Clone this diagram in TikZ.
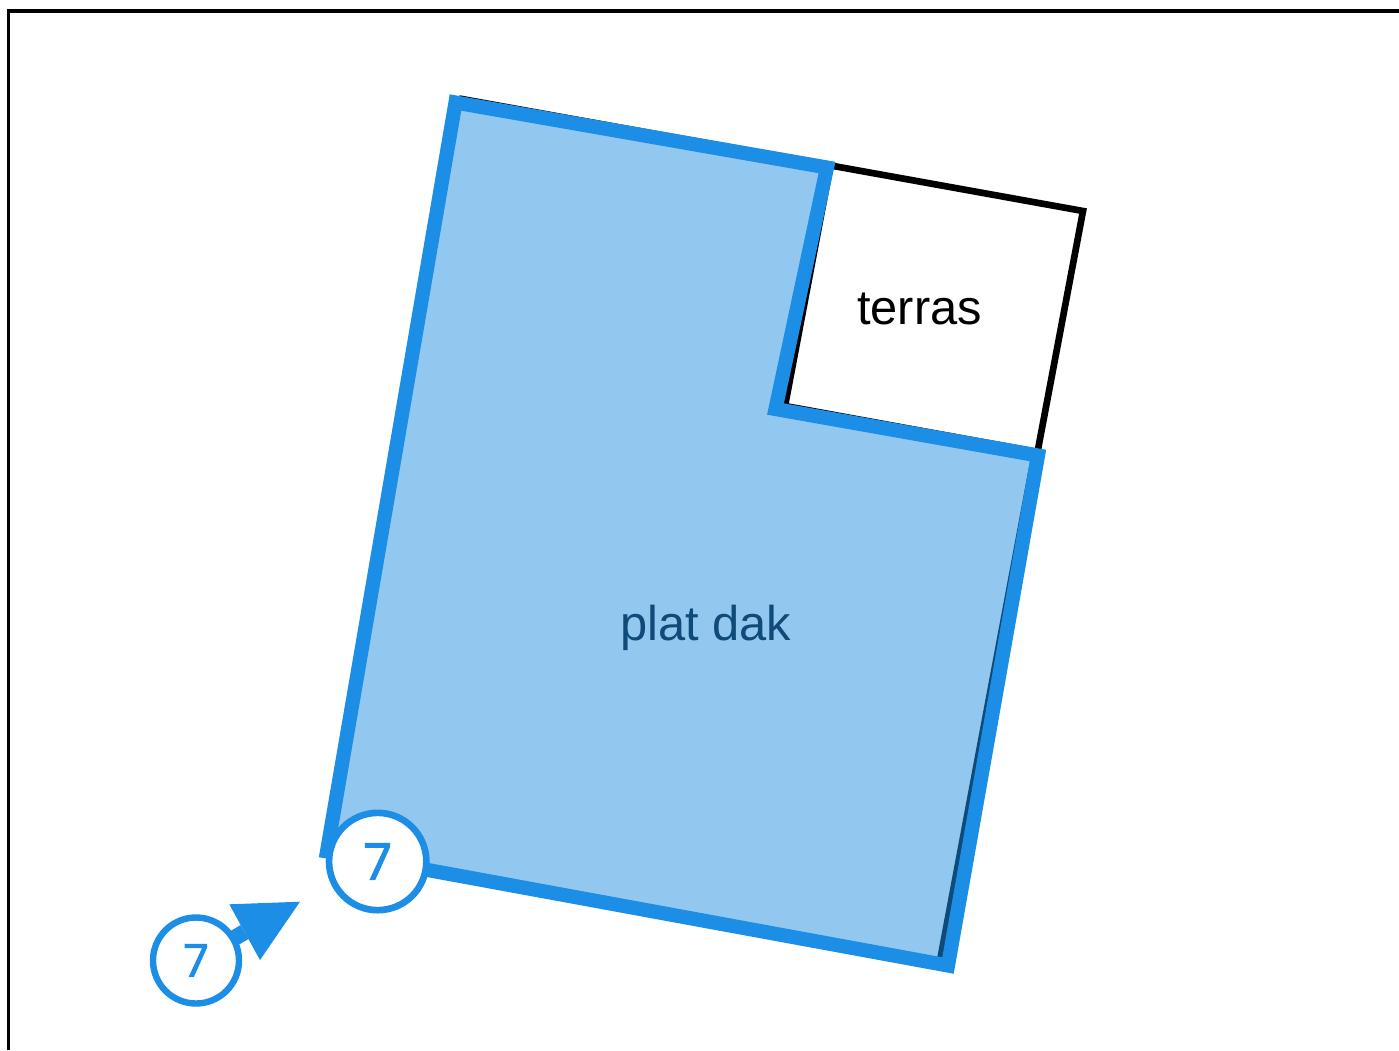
\documentclass[tikz,border=0pt]{standalone}
\usepackage{fontspec}
\setmainfont{Liberation Sans}
\newfontfamily\numfont{Open Sans}[FakeBold=2.2]
\definecolor{roofblue}{HTML}{1C8EE6}
\definecolor{rooffill}{HTML}{92C8F0}
\definecolor{roofdark}{HTML}{0F4A78}
\tikzset{
  frameline/.style={draw=black,line width=2.4pt},
  outline/.style={draw=black,line width=5pt,line join=miter},
  seenline/.style={draw=roofdark,line width=4.4pt},
  roofedge/.style={draw=roofblue,line width=10.6pt,line join=miter},
  roofarea/.style={fill=rooffill},
  label/.style={font=\fontsize{36.6}{40}\selectfont,anchor=base,inner sep=0pt},
  badge/.style={circle,draw=roofblue,fill=white,inner sep=0pt,text=roofblue},
}
\begin{document}
\begin{tikzpicture}[x=0.75pt,y=-0.75pt]
\useasboundingbox (0,0) rectangle (1399,1050);
\coordinate (fa) at (8.5,1050);
\coordinate (fb) at (8.5,11);
\coordinate (fc) at (1399,11);
\draw[frameline] (fa) -- (fb) -- (fc);
% terrace outline
\coordinate (ta) at (459,98.5);
\coordinate (tb) at (1083,211);
\coordinate (tc) at (1037.5,452);
\coordinate (td) at (785,406);
\coordinate (te) at (830,168);
\draw[outline] (ta) -- (tb) -- (tc) -- (td) -- (te);
% roof
\coordinate (r1) at (455.5,102.5);
\coordinate (r2) at (827,167.5);
\coordinate (r3) at (775.5,409);
\coordinate (r4) at (1038,455.5);
\coordinate (r5) at (948,965.5);
\coordinate (r6) at (327,851.5);
\fill[roofarea] (r1) -- (r2) -- (r3) -- (r4) -- (r5) -- (r6) -- cycle;
\coordinate (d1) at (1033,461);
\coordinate (d2) at (939.5,961);
\draw[seenline] (d1) -- (d2);
\draw[roofedge] (r1) -- (r2) -- (r3) -- (r4) -- (r5) -- (r6) -- cycle;
\node[label] (terras) at (919.5,324) {terras};
\node[label,text=roofdark] (platdak) at (705.5,640) {plat dak};
% badges
\node[badge,line width=5pt,minimum size=73pt,font=\numfont\fontsize{38}{40}\selectfont] (b1) at (377.7,861.5) {7};
\coordinate (h1) at (229.3,904.3);
\coordinate (h2) at (300,901.7);
\coordinate (h3) at (260,960);
\coordinate (hm) at (244.6,932);
\coordinate (s) at (196,960.5);
\draw[roofblue,line width=12pt] (s) -- (hm);
\fill[roofblue] (h1) -- (h2) -- (h3) -- cycle;
\node[badge,line width=4.8pt,minimum size=64.5pt,font=\numfont\fontsize{34}{36}\selectfont] (b2) at (s) {7};
\end{tikzpicture}
\end{document}
